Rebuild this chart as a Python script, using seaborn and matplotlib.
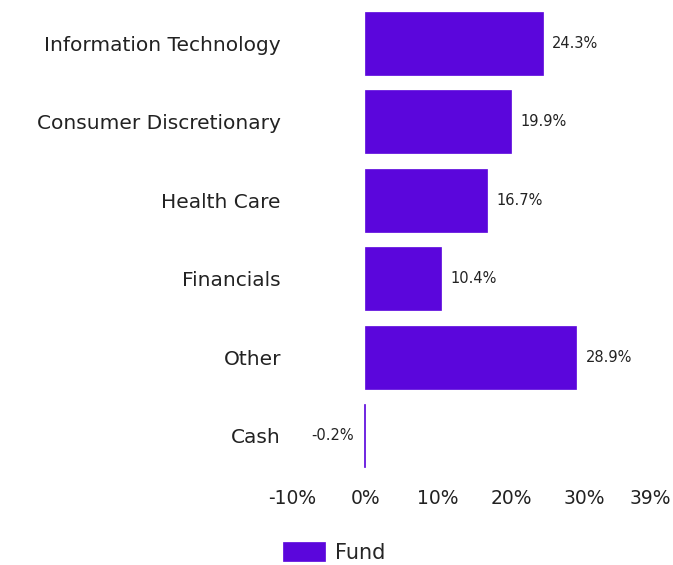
import pandas as pd
import seaborn as sns
import matplotlib.pyplot as plt

# ── Data ────────────────────────────────────────────────────────────────────
sectors = ["Information Technology", "Consumer Discretionary", "Health Care",
           "Financials", "Other", "Cash"]
fund_pct = [24.3, 19.9, 16.7, 10.4, 28.9, -0.2]
x_ticks = [-10, 0, 10, 20, 30, 39]

BAR_COLOR = "#5B06DC"

sns.set_theme(style="white")
plt.rcParams["font.family"] = ["DejaVu Sans"]

df = pd.DataFrame({"sector": sectors, "pct": fund_pct, "series": "Fund"})

fig = plt.figure(figsize=(6.73, 5.65), dpi=100)
ax = fig.add_axes([0.434, 0.159, 0.532, 0.834])
sns.barplot(data=df, x="pct", y="sector", hue="series", orient="h",
            palette=[BAR_COLOR], saturation=1, width=0.8, ax=ax, legend=True,
            edgecolor=BAR_COLOR, linewidth=0.5)

ax.set_xlim(-10, 39)
ax.set_xticks(x_ticks)
ax.set_xticklabels([f"{t}%" for t in x_ticks], fontsize=13.5, color="#222222")
ax.tick_params(axis="y", labelsize=14.5, colors="#222222", pad=8, length=0)
ax.tick_params(axis="x", length=0, pad=10)
ax.set_xlabel("")
ax.set_ylabel("")
sns.despine(ax=ax, left=True, bottom=True)

# value labels
for i, v in enumerate(fund_pct):
    if v >= 0:
        ax.text(v + 1.3, i, f"{v}%", va="center", ha="left", fontsize=10.5,
                color="#222222")
    else:
        ax.text(v - 1.3, i, f"{v}%", va="center", ha="right", fontsize=10.5,
                color="#222222")

ax.legend(loc="upper left", bbox_to_anchor=(-0.025, -0.142), frameon=False,
          fontsize=15, handlelength=2.0, handleheight=1.0, handletextpad=0.5,
          borderpad=0, borderaxespad=0)

fig.savefig("out.png", dpi=100)
